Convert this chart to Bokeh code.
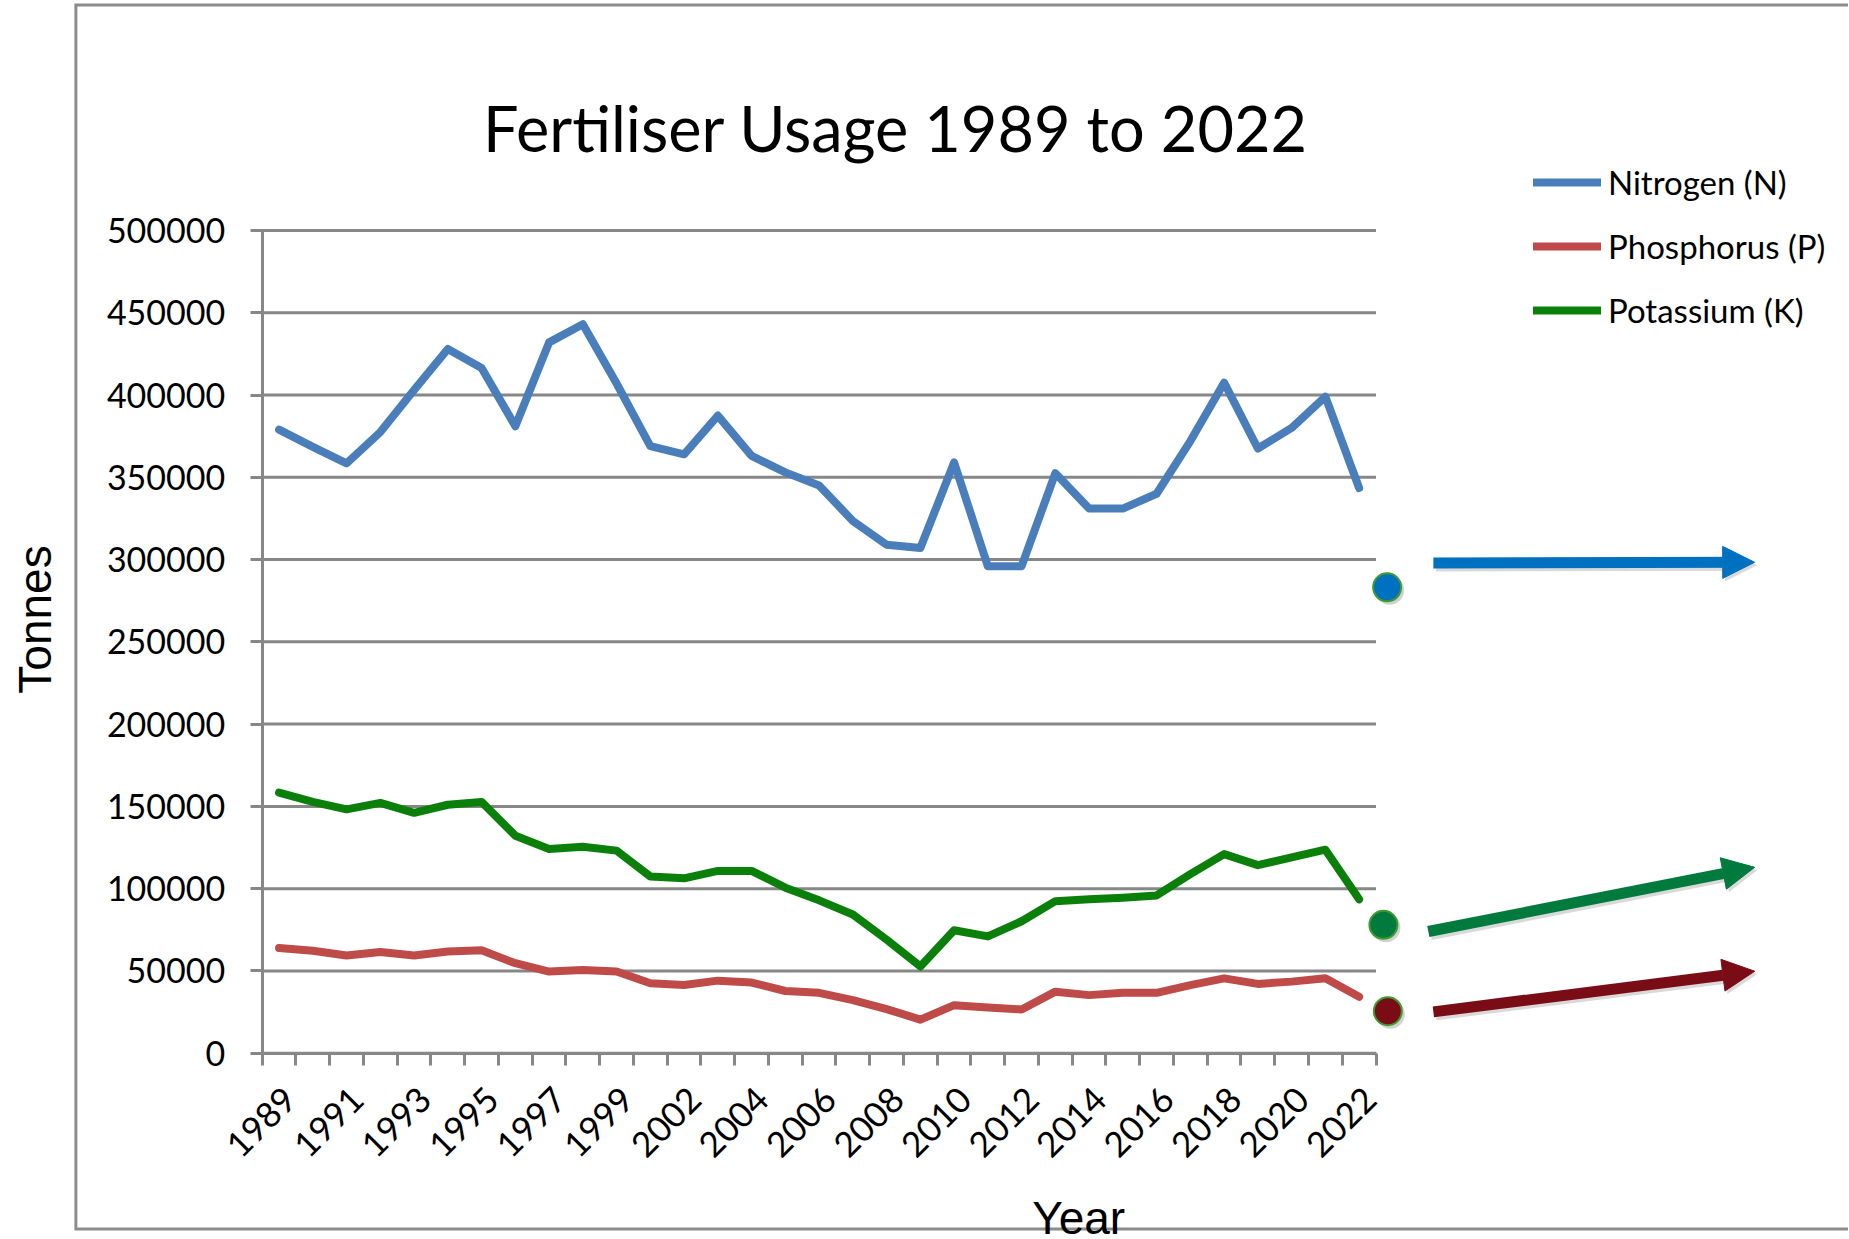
import numpy as np
from bokeh.plotting import figure
from bokeh.models import (Range1d, FixedTicker, Legend, LegendItem, Label, Arrow,
                          NormalHead, BasicTickFormatter)
from bokeh.embed import file_html
from bokeh.resources import INLINE

# ---------------- data ----------------
years = ["1989", "1990", "1991", "1992", "1993", "1994", "1995", "1996", "1997", "1998",
         "1999", "2000", "2002", "2003", "2004", "2005", "2006", "2007", "2008", "2009",
         "2010", "2011", "2012", "2013", "2014", "2015", "2016", "2017", "2018", "2019",
         "2020", "2021", "2022"]

nitrogen = [379000, 368500, 358500, 377500, 403000, 428000, 416500, 381000, 432000, 443000,
            407000, 369000, 364000, 387500, 363000, 353000, 345000, 323500, 309000, 307000,
            359000, 296000, 296000, 352500, 331000, 331000, 340000, 372000, 407500, 367500,
            380000, 399000, 343500]

phosphorus = [63900, 62300, 59400, 61500, 59400, 61800, 62500, 54700, 49600, 50600,
              49600, 42500, 41400, 44100, 42900, 37800, 36700, 32300, 26800, 20400,
              29200, 27800, 26600, 37400, 35300, 36700, 36700, 41400, 45500, 42100,
              43500, 45500, 34300]

potassium = [158400, 152700, 148200, 152100, 146100, 151000, 152700, 132200, 124100, 125500,
             123100, 107400, 106300, 110800, 110800, 100600, 92900, 84300, 69000, 52700,
             74700, 71000, 80200, 92400, 93500, 94500, 95900, 108800, 121000, 114300,
             119000, 123700, 93500]

series_names = ["Nitrogen (N)", "Phosphorus (P)", "Potassium (K)"]
y_ticks = [0, 50000, 100000, 150000, 200000, 250000, 300000, 350000, 400000, 450000, 500000]

title_text = "Fertiliser Usage 1989 to 2022"
x_title = "Year"
y_title = "Tonnes"

# ---------------- layout / styles ----------------
GRID = "#878787"
N_COL, P_COL, K_COL = "#4A7EBB", "#BE4B48", "#0A800A"
FONT = "Lato"

n = len(years)
idx = list(range(n))
W, H = 1848, 1238
# pixel placement of the category/value area inside the canvas
PL, PR, PT, PB = 261.7, 1375.5, 230.0, 1052.7
px_x = (PR - PL) / n                 # pixels per category
u_y = 500000 / (PB - PT)             # tonnes per pixel
x0r = -0.5 - PL / px_x
y0r = -(H - PB) * u_y

p = figure(width=W, height=H, min_border=0,
           x_range=Range1d(x0r, x0r + W / px_x), y_range=Range1d(y0r, y0r + H * u_y),
           output_backend="svg", toolbar_location=None,
           background_fill_color="white", border_fill_color="white",
           outline_line_color=None)
p.xgrid.visible = False
p.ygrid.visible = False

# horizontal gridlines across the category area
p.segment(x0=-0.5, x1=n - 0.5, y0=y_ticks, y1=y_ticks, line_color=GRID, line_width=3)

# x axis: ticks between categories, labels every other category
xa = p.xaxis[0]
xa.fixed_location = 0
xa.bounds = (-0.5, n - 0.5)
lab_ticks = [i + 0.32 for i in idx[::2]]
xa.ticker = FixedTicker(ticks=lab_ticks, minor_ticks=[i - 0.5 for i in range(n + 1)])
xa.major_label_overrides = {t: years[i] for t, i in zip(lab_ticks, idx[::2])}
xa.major_label_orientation = np.pi / 4
xa.major_tick_line_color = None
xa.major_tick_out = 12
xa.major_tick_in = 0
xa.minor_tick_line_color = GRID
xa.minor_tick_line_width = 3
xa.minor_tick_out = 12
xa.minor_tick_in = 0
xa.axis_line_color = GRID
xa.axis_line_width = 3
xa.major_label_text_font = FONT
xa.major_label_text_font_size = "35px"
xa.major_label_text_color = "black"
xa.major_label_standoff = 28

ya = p.yaxis[0]
ya.fixed_location = -0.5
ya.bounds = (0, 500000)
ya.ticker = FixedTicker(ticks=y_ticks)
ya.formatter = BasicTickFormatter(use_scientific=False)
ya.major_tick_out = 12
ya.major_tick_in = 0
ya.major_tick_line_color = GRID
ya.major_tick_line_width = 3
ya.minor_tick_line_color = None
ya.axis_line_color = GRID
ya.axis_line_width = 3
ya.major_label_text_font = FONT
ya.major_label_text_font_size = "34px"
ya.major_label_text_color = "black"
ya.major_label_standoff = 25

# outer chart-area border (left, top, bottom)
p.line(x=[60, -6.02, -6.02, 60], y=[637050, 637050, -106900, -106900],
       line_color="#8C8C8C", line_width=3, line_join="miter")

renderers = []
for vals, col in zip([nitrogen, phosphorus, potassium], [N_COL, P_COL, K_COL]):
    r = p.line(idx, vals, line_color=col, line_width=8, line_join="round", line_cap="round")
    renderers.append(r)

legend = Legend(items=[LegendItem(label=nm, renderers=[r]) for nm, r in zip(series_names, renderers)],
                location=(1533, 908), padding=0, margin=0, spacing=24,
                glyph_width=68, glyph_height=40, label_height=40, label_standoff=7,
                border_line_color=None, background_fill_alpha=0,
                label_text_font=FONT, label_text_font_size="33px", label_text_color="black")
p.add_layout(legend)

# title and axis titles
p.add_layout(Label(x=18.27, y=562600, text=title_text, text_align="center",
                   text_baseline="alphabetic", text_font=FONT, text_font_size="63px",
                   text_color="black"))
p.add_layout(Label(x=-7.22, y=263600, text=y_title, angle=np.pi / 2, text_align="center",
                   text_baseline="middle", text_font="Liberation Sans", text_font_size="46px",
                   text_color="black"))
p.add_layout(Label(x=23.69, y=-99900, text=x_title, text_align="center",
                   text_baseline="alphabetic", text_font="Liberation Sans", text_font_size="46px",
                   text_color="black"))

# decorative markers and arrows to the right of the chart
dot_x = [32.83, 32.72, 32.85]
dot_y = [283150, 78040, 25530]
dot_col = ["#0070C0", "#007A3D", "#7A0C16"]
sdx, sdy = 2.5 / px_x, -3 * u_y
p.scatter([x + sdx for x in dot_x], [y + sdy for y in dot_y], size=29, marker="circle",
          fill_color="black", fill_alpha=0.18, line_alpha=0)
p.scatter(dot_x, dot_y, size=28, marker="circle", fill_color=dot_col,
          line_color="#3E9B2E", line_width=2)

arrows = [((34.20, 297920), (43.72, 298350), "#0070C0"),
          ((34.05, 73960), (43.72, 112980), "#007A3D"),
          ((34.20, 25100), (43.72, 49840), "#7A0C16")]
for (ax0, ay0), (ax1, ay1), col in arrows:
    p.add_layout(Arrow(x_start=ax0 + sdx, y_start=ay0 + sdy, x_end=ax1 + sdx, y_end=ay1 + sdy,
                       line_color="black", line_alpha=0.15, line_width=11,
                       end=NormalHead(size=32, fill_color="black", fill_alpha=0.15, line_alpha=0)))
    p.add_layout(Arrow(x_start=ax0, y_start=ay0, x_end=ax1, y_end=ay1,
                       line_color=col, line_width=11,
                       end=NormalHead(size=32, fill_color=col, line_color=col, line_width=1)))

open("out.html", "w").write(file_html(p, INLINE))
